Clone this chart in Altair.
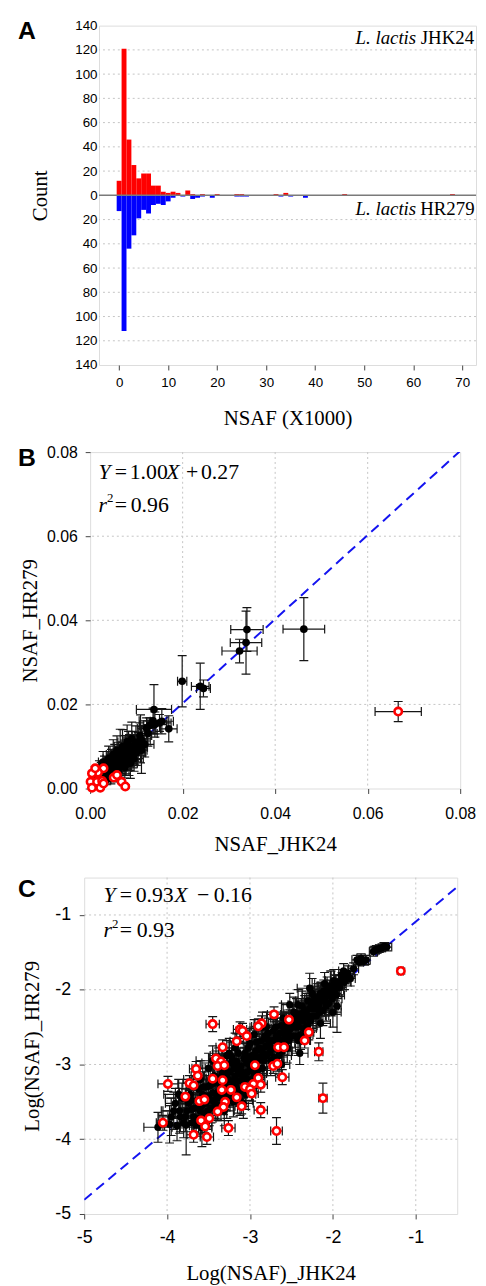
import altair as alt
import pandas as pd

SERIF = "Liberation Serif"
SANS = "Liberation Sans"
FRAME = "#444444"
GRID = "#c4c4c4"
ERR = "#151515"
RED = "#ff0000"
BLUE = "#0000ff"
DASH_BLUE = "#1414f0"

# ---------------- Panel A : histogram ----------------
A_RED_BIN = [0, 1, 2, 3, 4, 5, 6, 7, 8, 9, 10, 11, 12, 14, 15, 17, 20, 24, 25, 32, 34, 46, 68]
A_RED_COUNT = [12, 121, 46, 25, 14, 18, 18, 8, 8, 3, 2, 3, 2, 4, 1, 1, 1, 1, 1, 1, 2, 1, 1]
A_BLUE_BIN = [0, 1, 2, 3, 4, 5, 6, 7, 8, 9, 10, 11, 13, 15, 16, 17, 19, 24, 25, 26, 33, 35, 38]
A_BLUE_COUNT = [13, 112, 44, 33, 19, 12, 15, 8, 7, 8, 5, 2, 1, 3, 2, 1, 2, 1, 1, 1, 1, 1, 2]
A_X_TICKS = [0, 10, 20, 30, 40, 50, 60, 70]
A_Y_TICKS = [-140, -120, -100, -80, -60, -40, -20, 0, 20, 40, 60, 80, 100, 120, 140]
A_GRID = [-120, -100, -80, -60, -40, -20, 20, 40, 60, 80, 100, 120]

# ---------------- Panel B : NSAF scatter ----------------
# (x, y, x error, y error)
B_BLACK = [
    (0.0339, 0.0378, 0.0035, 0.0052), (0.0462, 0.0379, 0.0045, 0.0075),
    (0.0337, 0.0347, 0.0034, 0.0075), (0.0323, 0.0327, 0.0038, 0.0028),
    (0.0199, 0.0255, 0.0010, 0.0061), (0.0238, 0.0243, 0.0019, 0.0055),
    (0.0245, 0.0238, 0.0015, 0.0020), (0.0138, 0.0188, 0.0038, 0.0059),
    (0.0136, 0.0161, 0.0030, 0.0030), (0.0150, 0.0156, 0.0025, 0.0020),
    (0.0170, 0.0142, 0.0018, 0.0031), (0.0122, 0.0143, 0.0020, 0.0025),
    (0.0129, 0.0150, 0.0022, 0.0018), (0.0109, 0.0118, 0.0015, 0.0057),
    (0.0111, 0.0091, 0.0012, 0.0055), (0.0108, 0.0126, 0.0025, 0.0030),
    (0.0101, 0.0103, 0.0020, 0.0025), (0.0118, 0.0105, 0.0020, 0.0030),
    (0.0112, 0.0113, 0.0018, 0.0035), (0.0140, 0.0152, 0.0025, 0.0030),
    (0.0155, 0.0160, 0.0025, 0.0030), (0.0125, 0.0131, 0.0020, 0.0030),
    (0.0010, 0.0015, 0.0006, 0.0010), (0.0016, 0.0032, 0.0008, 0.0015),
    (0.0021, 0.0023, 0.0007, 0.0012), (0.0024, 0.0042, 0.0010, 0.0020),
    (0.0029, 0.0028, 0.0008, 0.0015), (0.0031, 0.0052, 0.0012, 0.0025),
    (0.0035, 0.0038, 0.0010, 0.0020), (0.0037, 0.0058, 0.0012, 0.0030),
    (0.0041, 0.0033, 0.0010, 0.0015), (0.0043, 0.0047, 0.0012, 0.0025),
    (0.0046, 0.0063, 0.0015, 0.0030), (0.0049, 0.0041, 0.0012, 0.0020),
    (0.0051, 0.0054, 0.0015, 0.0030), (0.0053, 0.0070, 0.0015, 0.0035),
    (0.0056, 0.0046, 0.0012, 0.0020), (0.0059, 0.0060, 0.0015, 0.0030),
    (0.0061, 0.0075, 0.0018, 0.0035), (0.0063, 0.0052, 0.0015, 0.0025),
    (0.0066, 0.0066, 0.0015, 0.0030), (0.0065, 0.0086, 0.0015, 0.0055),
    (0.0069, 0.0079, 0.0018, 0.0030), (0.0071, 0.0059, 0.0015, 0.0025),
    (0.0073, 0.0071, 0.0018, 0.0030), (0.0076, 0.0091, 0.0020, 0.0035),
    (0.0078, 0.0065, 0.0015, 0.0030), (0.0081, 0.0081, 0.0020, 0.0035),
    (0.0083, 0.0096, 0.0020, 0.0040), (0.0086, 0.0073, 0.0015, 0.0030),
    (0.0087, 0.0060, 0.0015, 0.0036), (0.0088, 0.0088, 0.0020, 0.0035),
    (0.0091, 0.0101, 0.0020, 0.0035), (0.0093, 0.0079, 0.0018, 0.0030),
    (0.0096, 0.0093, 0.0020, 0.0035), (0.0099, 0.0109, 0.0022, 0.0040),
    (0.0100, 0.0085, 0.0020, 0.0030), (0.0104, 0.0098, 0.0020, 0.0035),
    (0.0036, 0.0021, 0.0008, 0.0012), (0.0045, 0.0026, 0.0010, 0.0015),
    (0.0055, 0.0036, 0.0012, 0.0020), (0.0061, 0.0041, 0.0015, 0.0020),
    (0.0028, 0.0063, 0.0010, 0.0025), (0.0040, 0.0071, 0.0012, 0.0030),
    (0.0050, 0.0081, 0.0015, 0.0035), (0.0058, 0.0090, 0.0015, 0.0035),
    (0.0070, 0.0100, 0.0018, 0.0040), (0.0080, 0.0111, 0.0020, 0.0040),
    (0.0090, 0.0118, 0.0020, 0.0040), (0.0020, 0.0046, 0.0008, 0.0020),
    (0.0075, 0.0050, 0.0015, 0.0025), (0.0084, 0.0061, 0.0018, 0.0030),
    (0.0095, 0.0071, 0.0020, 0.0030), (0.0033, 0.0045, 0.0010, 0.0020),
    (0.0039, 0.0050, 0.0012, 0.0025), (0.0047, 0.0055, 0.0012, 0.0025),
    (0.0054, 0.0062, 0.0015, 0.0030), (0.0062, 0.0068, 0.0015, 0.0030),
    (0.0068, 0.0072, 0.0015, 0.0030), (0.0074, 0.0080, 0.0018, 0.0035),
    (0.0079, 0.0087, 0.0018, 0.0035), (0.0085, 0.0093, 0.0020, 0.0035),
    (0.0092, 0.0090, 0.0020, 0.0035), (0.0097, 0.0100, 0.0020, 0.0035),
    (0.0026, 0.0035, 0.0008, 0.0015), (0.0043, 0.0040, 0.0010, 0.0020),
]
B_RED = [
    (0.0029, 0.0048, 0.0004, 0.0004), (0.0017, 0.0038, 0.0004, 0.0004),
    (0.0004, 0.0036, 0.0004, 0.0004), (0.0001, 0.0016, 0.0004, 0.0004),
    (0.0015, 0.0016, 0.0004, 0.0004), (0.0026, 0.0018, 0.0004, 0.0004),
    (0.0004, 0.0002, 0.0004, 0.0004), (0.0022, 0.0002, 0.0004, 0.0004),
    (0.0051, 0.0026, 0.0004, 0.0004), (0.0058, 0.0032, 0.0004, 0.0004),
    (0.0068, 0.0016, 0.0004, 0.0004), (0.0076, 0.0005, 0.0004, 0.0004),
    (0.0029, 0.0012, 0.0004, 0.0004), (0.0011, 0.0048, 0.0004, 0.0004),
    (0.0666, 0.0183, 0.0050, 0.0024),
]
B_TICKS = [0.0, 0.02, 0.04, 0.06, 0.08]
B_GRID = [0.02, 0.04, 0.06]
B_LINE_X = [0.0, 0.08]
B_LINE_Y = [0.00027, 0.08027]

# ---------------- Panel C : log NSAF scatter ----------------
C_BLACK = [
    (-4.11, -3.84, 0.17, 0.20), (-3.95, -3.70, 0.15, 0.25), (-3.90, -3.52, 0.12, 0.20),
    (-3.85, -3.62, 0.20, 0.30), (-3.80, -3.78, 0.18, 0.20), (-3.77, -3.81, 0.10, 0.40),
    (-3.72, -3.40, 0.15, 0.20), (-3.70, -3.60, 0.20, 0.15), (-3.65, -3.81, 0.12, 0.15),
    (-3.62, -3.33, 0.15, 0.20), (-3.58, -3.55, 0.20, 0.20), (-3.55, -3.66, 0.10, 0.25),
    (-3.52, -3.30, 0.15, 0.15), (-3.50, -3.42, 0.20, 0.20), (-3.47, -3.58, 0.15, 0.20),
    (-3.43, -3.15, 0.20, 0.15), (-3.40, -3.45, 0.10, 0.20), (-3.37, -3.25, 0.15, 0.25),
    (-3.34, -3.05, 0.20, 0.15), (-3.30, -3.35, 0.15, 0.20), (-3.28, -3.12, 0.10, 0.20),
    (-3.25, -3.42, 0.15, 0.15), (-3.22, -2.98, 0.20, 0.20), (-3.20, -3.22, 0.15, 0.15),
    (-3.17, -3.05, 0.12, 0.25), (-3.14, -2.85, 0.20, 0.15), (-3.12, -3.35, 0.10, 0.20),
    (-3.10, -3.10, 0.15, 0.20), (-3.07, -2.92, 0.20, 0.15), (-3.05, -3.18, 0.15, 0.20),
    (-3.02, -2.78, 0.15, 0.15), (-3.00, -3.02, 0.10, 0.20), (-2.97, -2.88, 0.20, 0.15),
    (-2.95, -3.12, 0.15, 0.20), (-2.92, -2.70, 0.10, 0.15), (-2.90, -2.95, 0.15, 0.20),
    (-2.87, -2.80, 0.20, 0.15), (-2.85, -3.05, 0.10, 0.20), (-2.82, -2.62, 0.15, 0.15),
    (-2.80, -2.88, 0.15, 0.20), (-2.77, -2.72, 0.12, 0.15), (-2.75, -2.95, 0.15, 0.20),
    (-2.72, -2.55, 0.20, 0.15), (-2.70, -2.78, 0.10, 0.15), (-2.67, -2.63, 0.15, 0.20),
    (-2.65, -2.88, 0.15, 0.25), (-2.62, -2.48, 0.10, 0.15), (-2.60, -2.70, 0.20, 0.20),
    (-2.57, -2.55, 0.15, 0.15), (-2.55, -2.78, 0.10, 0.20), (-2.52, -2.42, 0.15, 0.15),
    (-2.50, -2.62, 0.12, 0.20), (-2.47, -2.30, 0.15, 0.20), (-2.45, -2.50, 0.10, 0.15),
    (-2.42, -2.68, 0.15, 0.20), (-2.40, -2.38, 0.12, 0.15), (-2.37, -2.22, 0.10, 0.20),
    (-2.35, -2.52, 0.15, 0.15), (-2.32, -2.32, 0.10, 0.15), (-2.30, -2.15, 0.15, 0.20),
    (-2.27, -2.42, 0.10, 0.15), (-2.25, -2.25, 0.12, 0.20), (-2.22, -2.10, 0.10, 0.15),
    (-2.20, -2.35, 0.15, 0.15), (-2.17, -2.20, 0.10, 0.20), (-2.15, -2.05, 0.12, 0.15),
    (-2.12, -2.28, 0.10, 0.20), (-2.10, -2.12, 0.10, 0.15), (-2.07, -1.98, 0.10, 0.15),
    (-2.05, -2.18, 0.10, 0.15), (-2.02, -2.05, 0.12, 0.30), (-2.00, -2.30, 0.10, 0.20),
    (-1.98, -1.95, 0.10, 0.15), (-1.96, -2.07, 0.10, 0.26), (-1.93, -1.90, 0.08, 0.10),
    (-1.90, -1.81, 0.08, 0.08), (-1.87, -1.75, 0.06, 0.10), (-1.84, -1.83, 0.08, 0.08),
    (-1.79, -1.85, 0.06, 0.10), (-1.71, -1.60, 0.06, 0.06), (-1.68, -1.63, 0.05, 0.05),
    (-1.63, -1.62, 0.06, 0.05), (-1.51, -1.49, 0.05, 0.06), (-1.47, -1.46, 0.05, 0.05),
    (-1.44, -1.45, 0.04, 0.05), (-1.35, -1.43, 0.06, 0.05),
    (-3.35, -3.55, 0.15, 0.20), (-3.15, -3.45, 0.10, 0.20), (-3.60, -3.20, 0.20, 0.25),
    (-3.82, -3.45, 0.20, 0.20), (-2.85, -2.50, 0.15, 0.20), (-2.95, -2.60, 0.10, 0.20),
    (-3.25, -2.85, 0.20, 0.20), (-2.62, -3.00, 0.10, 0.15), (-2.40, -2.85, 0.10, 0.15),
    (-2.15, -2.45, 0.12, 0.20), (-2.52, -2.20, 0.10, 0.15), (-2.28, -1.98, 0.15, 0.20),
    (-1.95, -2.22, 0.05, 0.35),
    (-3.88, -3.82, 0.15, 0.20), (-3.74, -3.52, 0.15, 0.20), (-3.68, -3.70, 0.12, 0.20),
    (-3.63, -3.48, 0.15, 0.20), (-3.57, -3.40, 0.15, 0.20), (-3.53, -3.52, 0.12, 0.20),
    (-3.48, -3.28, 0.15, 0.20), (-3.45, -3.38, 0.15, 0.15), (-3.42, -3.52, 0.12, 0.20),
    (-3.38, -3.18, 0.15, 0.20), (-3.36, -3.38, 0.12, 0.15), (-3.32, -3.25, 0.15, 0.20),
    (-3.27, -3.30, 0.12, 0.15), (-3.24, -3.10, 0.15, 0.20), (-3.21, -3.38, 0.12, 0.15),
    (-3.18, -3.16, 0.15, 0.20), (-3.16, -2.96, 0.12, 0.15), (-3.13, -3.22, 0.15, 0.20),
    (-3.11, -3.02, 0.12, 0.15), (-3.08, -3.25, 0.15, 0.20), (-3.06, -2.85, 0.12, 0.15),
    (-3.03, -3.10, 0.15, 0.20), (-3.01, -2.90, 0.12, 0.15), (-2.98, -3.20, 0.15, 0.20),
    (-2.96, -2.95, 0.12, 0.15), (-2.93, -2.82, 0.15, 0.20), (-2.91, -3.08, 0.12, 0.15),
    (-2.88, -2.90, 0.15, 0.20), (-2.86, -2.68, 0.12, 0.15), (-2.83, -2.95, 0.15, 0.20),
    (-2.81, -2.76, 0.12, 0.15), (-2.78, -2.58, 0.15, 0.20), (-2.76, -2.84, 0.12, 0.15),
    (-2.73, -2.68, 0.15, 0.20), (-2.71, -2.90, 0.12, 0.15), (-2.69, -2.50, 0.15, 0.20),
    (-2.66, -2.72, 0.12, 0.15), (-2.64, -2.58, 0.15, 0.20), (-2.61, -2.82, 0.12, 0.15),
    (-2.58, -2.62, 0.15, 0.20), (-2.56, -2.45, 0.12, 0.15), (-2.53, -2.68, 0.15, 0.20),
    (-2.51, -2.52, 0.12, 0.15), (-2.48, -2.40, 0.15, 0.20), (-2.46, -2.62, 0.12, 0.15),
    (-2.44, -2.32, 0.15, 0.20), (-2.41, -2.50, 0.12, 0.15), (-2.39, -2.60, 0.15, 0.20),
    (-2.36, -2.42, 0.12, 0.15), (-2.34, -2.28, 0.15, 0.20), (-2.31, -2.48, 0.12, 0.15),
    (-2.29, -2.36, 0.15, 0.20), (-2.26, -2.18, 0.12, 0.15), (-2.24, -2.35, 0.15, 0.20),
    (-2.21, -2.25, 0.12, 0.15), (-2.19, -2.12, 0.15, 0.20), (-2.16, -2.30, 0.12, 0.15),
    (-2.13, -2.15, 0.15, 0.20), (-2.11, -2.02, 0.12, 0.15), (-2.08, -2.22, 0.15, 0.20),
    (-2.06, -2.08, 0.12, 0.15), (-2.03, -1.95, 0.15, 0.20), (-2.01, -2.12, 0.12, 0.15),
    (-1.99, -1.88, 0.10, 0.15), (-1.97, -2.00, 0.10, 0.15), (-1.92, -1.97, 0.08, 0.12),
    (-1.89, -1.87, 0.08, 0.10), (-1.86, -1.90, 0.08, 0.10), (-1.82, -1.78, 0.08, 0.10),
    (-1.75, -1.72, 0.06, 0.08), (-1.66, -1.58, 0.05, 0.06), (-1.60, -1.60, 0.05, 0.06),
    (-1.49, -1.47, 0.05, 0.05), (-1.41, -1.44, 0.04, 0.05), (-1.38, -1.42, 0.05, 0.05),
    (-3.78, -3.70, 0.15, 0.20), (-3.70, -3.78, 0.15, 0.20), (-3.62, -3.72, 0.12, 0.20),
    (-3.58, -3.85, 0.12, 0.25), (-3.28, -3.52, 0.15, 0.20), (-3.20, -3.50, 0.12, 0.20),
    (-3.12, -3.48, 0.15, 0.20), (-3.05, -3.40, 0.12, 0.20), (-3.45, -2.95, 0.20, 0.20),
    (-3.28, -2.88, 0.20, 0.20), (-3.18, -2.78, 0.15, 0.20), (-3.92, -3.62, 0.15, 0.25),
    (-3.86, -3.40, 0.18, 0.20),
    (-3.66, -3.58, 0.15, 0.20), (-3.60, -3.62, 0.12, 0.20), (-3.56, -3.30, 0.15, 0.20),
    (-3.51, -3.62, 0.12, 0.20), (-3.46, -3.48, 0.15, 0.20), (-3.44, -3.25, 0.12, 0.20),
    (-3.41, -3.38, 0.15, 0.20), (-3.39, -3.55, 0.12, 0.20), (-3.35, -3.45, 0.15, 0.20),
    (-3.33, -3.12, 0.12, 0.20), (-3.29, -3.42, 0.15, 0.20), (-3.26, -3.20, 0.12, 0.20),
    (-3.23, -3.30, 0.15, 0.20), (-3.19, -3.05, 0.12, 0.20), (-3.17, -3.30, 0.15, 0.20),
    (-3.14, -3.12, 0.12, 0.20), (-3.09, -3.15, 0.15, 0.20), (-3.04, -2.98, 0.12, 0.20),
    (-2.99, -3.08, 0.15, 0.20), (-2.94, -2.90, 0.12, 0.20), (-2.89, -2.78, 0.15, 0.20),
    (-2.84, -2.85, 0.12, 0.20), (-2.79, -2.66, 0.15, 0.20), (-2.74, -2.78, 0.12, 0.20),
    (-2.68, -2.62, 0.15, 0.20), (-2.63, -2.68, 0.12, 0.20), (-2.59, -2.52, 0.15, 0.20),
    (-2.54, -2.58, 0.12, 0.20), (-2.49, -2.48, 0.15, 0.20), (-2.43, -2.42, 0.12, 0.20),
    (-2.38, -2.32, 0.15, 0.20), (-2.33, -2.38, 0.12, 0.20), (-2.28, -2.25, 0.15, 0.20),
    (-2.23, -2.16, 0.12, 0.20), (-2.18, -2.22, 0.15, 0.20), (-2.14, -2.10, 0.12, 0.20),
    (-2.09, -2.05, 0.12, 0.15), (-2.04, -2.02, 0.12, 0.15), (-3.71, -3.48, 0.15, 0.20),
    (-3.76, -3.62, 0.15, 0.20), (-3.84, -3.70, 0.15, 0.20), (-3.97, -3.80, 0.15, 0.25),
    (-3.31, -3.62, 0.12, 0.20), (-3.08, -3.52, 0.12, 0.20), (-3.50, -3.05, 0.20, 0.20),
    (-3.38, -2.98, 0.20, 0.20), (-3.22, -2.90, 0.15, 0.20), (-3.00, -2.72, 0.15, 0.20),
    (-2.80, -2.50, 0.15, 0.20), (-2.60, -2.38, 0.15, 0.20), (-2.42, -2.20, 0.12, 0.20),
    (-2.25, -2.05, 0.12, 0.20), (-2.10, -1.92, 0.12, 0.15),
]
C_RED = [
    (-1.18, -1.75, 0.03, 0.04), (-3.45, -2.46, 0.08, 0.10), (-2.71, -2.33, 0.08, 0.10),
    (-2.53, -2.40, 0.08, 0.10), (-2.86, -2.45, 0.08, 0.10), (-2.90, -2.49, 0.08, 0.10),
    (-3.12, -2.53, 0.08, 0.10), (-3.09, -2.55, 0.08, 0.10), (-2.29, -2.57, 0.06, 0.10),
    (-3.04, -2.62, 0.08, 0.10), (-3.16, -2.69, 0.08, 0.10), (-2.34, -2.68, 0.06, 0.10),
    (-3.33, -2.77, 0.08, 0.10), (-2.66, -2.77, 0.08, 0.10), (-2.59, -2.77, 0.08, 0.10),
    (-2.17, -2.83, 0.05, 0.12), (-3.41, -2.92, 0.08, 0.10), (-3.35, -2.96, 0.08, 0.10),
    (-3.39, -3.02, 0.08, 0.10), (-3.31, -3.01, 0.08, 0.10), (-2.94, -3.01, 0.08, 0.10),
    (-2.72, -3.02, 0.08, 0.10), (-2.67, -2.99, 0.08, 0.10), (-3.65, -3.06, 0.08, 0.10),
    (-2.61, -3.17, 0.08, 0.10), (-3.63, -3.15, 0.08, 0.10), (-3.45, -3.19, 0.08, 0.10),
    (-3.33, -3.21, 0.08, 0.10), (-2.90, -3.18, 0.08, 0.10), (-2.87, -3.27, 0.08, 0.10),
    (-2.96, -3.26, 0.08, 0.10), (-3.06, -3.30, 0.08, 0.10), (-3.00, -3.33, 0.08, 0.10),
    (-2.98, -3.39, 0.08, 0.10), (-3.99, -3.26, 0.12, 0.10), (-3.73, -3.25, 0.08, 0.10),
    (-3.68, -3.28, 0.08, 0.10), (-3.34, -3.34, 0.08, 0.10), (-3.23, -3.34, 0.08, 0.10),
    (-3.16, -3.44, 0.08, 0.10), (-3.10, -3.56, 0.08, 0.10), (-3.78, -3.43, 0.08, 0.10),
    (-3.61, -3.49, 0.08, 0.10), (-3.55, -3.47, 0.08, 0.10), (-3.30, -3.50, 0.08, 0.10),
    (-3.32, -3.57, 0.08, 0.10), (-3.39, -3.63, 0.08, 0.10), (-2.87, -3.61, 0.08, 0.10),
    (-2.12, -3.45, 0.05, 0.20), (-4.05, -3.78, 0.08, 0.10), (-3.59, -3.75, 0.08, 0.10),
    (-3.49, -3.72, 0.08, 0.10), (-3.54, -3.83, 0.08, 0.10), (-3.26, -3.85, 0.08, 0.10),
    (-2.68, -3.89, 0.07, 0.18), (-3.68, -3.94, 0.08, 0.10), (-3.52, -3.97, 0.08, 0.10),
]
C_TICKS = [-5, -4, -3, -2, -1]
C_GRID = [-4, -3, -2, -1]
C_LINE_X = [-5.0, -0.5]
C_LINE_Y = [-4.81, -0.625]

ONE = pd.DataFrame({"k": [0]})
EQ = 22


def label(text, x, y, size, italic=False, bold=False, align="left",
          baseline="alphabetic", font=SERIF, opacity=1):
    return alt.Chart(ONE).mark_text(
        text=text, font=font, fontSize=size,
        fontStyle="italic" if italic else "normal",
        fontWeight="bold" if bold else "normal",
        align=align, baseline=baseline, color="black", opacity=opacity,
    ).encode(x=alt.value(x), y=alt.value(y))


def axis(title, values, label_expr, lab_size, lab_pad, title_pad, ticks=True):
    return alt.Axis(
        values=values, labelExpr=label_expr, title=title, grid=False,
        domain=False, ticks=ticks, tickSize=5 if ticks else 0, tickColor=FRAME,
        tickWidth=1, labelFont=SANS, labelFontSize=lab_size, labelColor="black",
        labelPadding=lab_pad, labelFlush=False, labelOverlap=False,
        titleFont=SERIF, titleFontSize=21, titleFontWeight="normal",
        titleColor="black", titlePadding=title_pad,
    )


def spacer():
    return alt.Chart(ONE).mark_text(text="", fontSize=1).encode(
        x=alt.value(0), y=alt.value(0)
    ).properties(width=1, height=1, view=alt.ViewBackground(stroke="transparent"))


# ---------------- build panel A ----------------
A_W, A_H = 381, 343
bars = pd.DataFrame({
    "lo": [b - 0.5 for b in A_RED_BIN] + [b - 0.5 for b in A_BLUE_BIN],
    "hi": [b + 0.5 for b in A_RED_BIN] + [b + 0.5 for b in A_BLUE_BIN],
    "count": A_RED_COUNT + [-c for c in A_BLUE_COUNT],
    "base": [0] * (len(A_RED_BIN) + len(A_BLUE_BIN)),
    "strain": ["JHK24"] * len(A_RED_BIN) + ["HR279"] * len(A_BLUE_BIN),
})
ax_a_x = axis("NSAF (X1000)", A_X_TICKS, "datum.label", 13.5, 5.7, 18.8)
ax_a_y = axis("Count", A_Y_TICKS, "'' + abs(datum.value)", 13.5, 2, 25, ticks=False)
sx_a = alt.Scale(domain=[-4.1, 72.8], nice=False, zero=False)
sy_a = alt.Scale(domain=[-140, 140], nice=False, zero=False)


def XA(f):
    return alt.X(f, type="quantitative", scale=sx_a, axis=ax_a_x)


def YA(f):
    return alt.Y(f, type="quantitative", scale=sy_a, axis=ax_a_y)


grid_a = alt.Chart(pd.DataFrame({"count": A_GRID})).mark_rule(
    color=GRID, strokeWidth=1, strokeDash=[2, 3]).encode(y=YA("count"))
bars_a = alt.Chart(bars).mark_bar(strokeWidth=0).encode(
    x=XA("lo"), x2=alt.X2("hi"), y=YA("count"), y2=alt.Y2("base"),
    color=alt.Color("strain:N", scale=alt.Scale(domain=["JHK24", "HR279"], range=[RED, BLUE]), legend=None),
)
zero_a = alt.Chart(pd.DataFrame({"count": [0]})).mark_rule(
    color="#7a7a7a", strokeWidth=1.5).encode(y=YA("count"))
panel_a = alt.layer(
    grid_a, bars_a, zero_a,
    label("JHK24", 379, 18.7, 19, align="right"),
    label("L. lactis", 320.5, 18.7, 19, italic=True, align="right"),
    label("HR279", 379.5, 191.3, 19, align="right"),
    label("L. lactis", 320.5, 191.3, 19, italic=True, align="right"),
    label("A", -82, -7, 25, bold=True, baseline="top", font=SANS),
).properties(width=A_W, height=A_H)


# ---------------- scatter panels ----------------
def scatter(black, red, line_x, line_y, dom, ticks, grid_vals, lab_expr, lab_size,
            xlab_pad, ylab_pad, xtitle, ytitle, xtitle_pad, ytitle_pad,
            black_size, red_size):
    pts = pd.concat([
        pd.DataFrame(black, columns=["x", "y", "xe", "ye"]).assign(kind="black"),
        pd.DataFrame(red, columns=["x", "y", "xe", "ye"]).assign(kind="red"),
    ], ignore_index=True)
    pts["xlo"] = pts["x"] - pts["xe"]
    pts["xhi"] = pts["x"] + pts["xe"]
    pts["ylo"] = pts["y"] - pts["ye"]
    pts["yhi"] = pts["y"] + pts["ye"]
    vcaps = pd.DataFrame({"cx": list(pts["xlo"]) + list(pts["xhi"]),
                          "cy": list(pts["y"]) * 2})
    hcaps = pd.DataFrame({"cx": list(pts["x"]) * 2,
                          "cy": list(pts["ylo"]) + list(pts["yhi"])})
    sx = alt.Scale(domain=dom, nice=False, zero=False)
    sy = alt.Scale(domain=dom, nice=False, zero=False)
    axx = axis(xtitle, ticks, lab_expr, lab_size, xlab_pad, xtitle_pad)
    axy = axis(ytitle, ticks, lab_expr, lab_size, ylab_pad, ytitle_pad)

    def X(f):
        return alt.X(f, type="quantitative", scale=sx, axis=axx)

    def Y(f):
        return alt.Y(f, type="quantitative", scale=sy, axis=axy)

    gdf = pd.DataFrame({"g": grid_vals})
    gx = alt.Chart(gdf).mark_rule(color=GRID, strokeWidth=1, strokeDash=[2, 3]).encode(x=X("g"))
    gy = alt.Chart(gdf).mark_rule(color=GRID, strokeWidth=1, strokeDash=[2, 3]).encode(y=Y("g"))
    reg = alt.Chart(pd.DataFrame({"x": line_x, "y": line_y})).mark_line(
        color=DASH_BLUE, strokeDash=[10, 6], strokeWidth=2, clip=True).encode(x=X("x"), y=Y("y"))
    xerr = alt.Chart(pts).mark_rule(color=ERR, strokeWidth=1.2, clip=True).encode(
        x=X("xlo"), x2=alt.X2("xhi"), y=Y("y"))
    yerr = alt.Chart(pts).mark_rule(color=ERR, strokeWidth=1.2, clip=True).encode(
        x=X("x"), y=Y("ylo"), y2=alt.Y2("yhi"))
    vc = alt.Chart(vcaps).mark_tick(orient="vertical", size=9, thickness=1.2, color=ERR,
                                    opacity=1, clip=True).encode(x=X("cx"), y=Y("cy"))
    hc = alt.Chart(hcaps).mark_tick(orient="horizontal", size=9, thickness=1.2, color=ERR,
                                    opacity=1, clip=True).encode(x=X("cx"), y=Y("cy"))
    blk = alt.Chart(pts[pts["kind"] == "black"]).mark_circle(
        size=black_size, color="black", opacity=1).encode(x=X("x"), y=Y("y"))
    rd = alt.Chart(pts[pts["kind"] == "red"]).mark_circle(
        size=red_size, fill="white", stroke=RED, strokeWidth=2.6, opacity=1).encode(x=X("x"), y=Y("y"))
    return [gx, gy, reg, xerr, yerr, vc, hc, blk, rd]


B_W, B_H = 374, 340
layers_b = scatter(B_BLACK, B_RED, B_LINE_X, B_LINE_Y, [0, 0.08], B_TICKS, B_GRID,
                   "format(datum.value, '.2f')", 16, 11.8, 8, "NSAF_JHK24", "NSAF_HR279",
                   12.5, 6.2, 60, 56)
panel_b = alt.layer(
    *layers_b,
    label("Y", 8.5, 27, EQ, italic=True),
    label("=", 25, 27, EQ),
    label("1.00", 40, 27, EQ),
    label("X", 77, 27, EQ, italic=True),
    label("+", 97, 27, EQ),
    label("0.27", 112, 27, EQ),
    label("r", 8.5, 60.3, EQ, italic=True),
    label("2", 17, 50.5, 13),
    label("=", 25, 60.3, EQ),
    label("0.96", 41, 60.3, EQ),
    label("B", -73, -5.5, 25, bold=True, baseline="top", font=SANS),
).properties(width=B_W, height=B_H)

C_W, C_H = 377, 340
layers_c = scatter(C_BLACK, C_RED, C_LINE_X, C_LINE_Y, [-5, -0.5], C_TICKS, C_GRID,
                   "'' + datum.value", 18, 9.7, 8.7, "Log(NSAF)_JHK24", "Log(NSAF)_HR279",
                   16.3, 12.6, 55, 56)
panel_c = alt.layer(
    *layers_c,
    label("Y", 19.5, 25, EQ, italic=True),
    label("=", 36, 25, EQ),
    label("0.93", 52, 25, EQ),
    label("X", 91, 25, EQ, italic=True),
    label("\u2212", 114, 25, EQ),
    label("0.16", 131, 25, EQ),
    label("r", 19.5, 60, EQ, italic=True),
    label("2", 28, 50.5, 13),
    label("=", 36, 60, EQ),
    label("0.93", 53, 60, EQ),
    label("C", -67, -8, 25, bold=True, baseline="top", font=SANS, opacity=0),
    label("C", -67, 0, 25, bold=True, baseline="top", font=SANS),
).properties(width=C_W, height=C_H)

row_a = alt.hconcat(spacer(), panel_a, spacing=0)
row_b = alt.hconcat(spacer(), panel_b, spacing=0)
row_c = alt.hconcat(spacer(), panel_c, spacing=0)

chart = alt.vconcat(row_a, row_b, row_c, spacing=14).properties(
    padding={"left": 6, "top": 3, "right": 0, "bottom": 0}
).configure_view(stroke=FRAME, strokeWidth=1).configure(background="white")

chart.save("out.html", embed_options={"renderer": "svg", "actions": False})
